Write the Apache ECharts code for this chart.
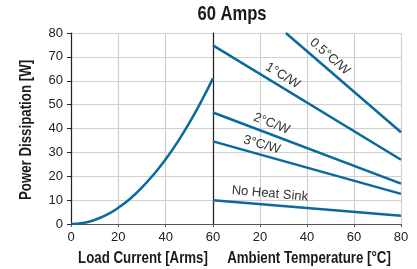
<!DOCTYPE html>
<html>
<head>
<meta charset="utf-8">
<script src="https://cdn.jsdelivr.net/npm/echarts@6/dist/echarts.min.js"></script>
<style>
  html, body { margin: 0; padding: 0; background: #fff; }
  #chart { width: 417px; height: 269px; }
</style>
</head>
<body>
<div id="chart"></div>
<script>
// left panel: dissipation vs load current
var loadCurrent = [0, 5, 10, 15, 20, 25, 30, 35, 40, 45, 50, 55, 60];
var dissipation = [0, 0.4, 1.7, 3.8, 6.8, 10.6, 15.3, 20.8, 27.1, 34.3, 42.4, 51.3, 61];

// right panel: derating lines vs ambient temperature
var ambientTemp = [0, 80];
var halfCW = [[31, 80], [80, 38.4]];
var oneCW = [74.8, 26.9];
var twoCW = [46.7, 16.9];
var threeCW = [34.6, 12.6];
var noSink = [9.9, 3.5];

var lineLabels = ['0.5°C/W', '1°C/W', '2°C/W', '3°C/W', 'No Heat Sink'];
var labelAnchors = [[49.7, 70.1], [29.7, 62.1], [25.0, 42.0], [20.8, 33.2], [24.2, 12.7]];
var labelAngles = [41, 31, 21, 16, 5];

var BLUE = '#0b6a9b';
var GRID = '#d0d0d0';
var REG = "'Liberation Sans', Arial, sans-serif";

function pairs(xs, ys) {
  return xs.map(function (x, i) { return [x, ys[i]]; });
}

var chart = echarts.init(document.getElementById('chart'));

var baseY = {
  type: 'value', min: 0, max: 80, interval: 10,
  splitLine: { show: true, lineStyle: { color: GRID, width: 1.2 } },
  axisLine: { show: true, lineStyle: { color: '#222', width: 1.2 } }
};

var baseX = {
  type: 'value', interval: 20,
  axisLine: { lineStyle: { color: '#555', width: 1.2 } },
  axisTick: { show: true, length: 3, lineStyle: { color: '#555' } },
  splitLine: { show: true, lineStyle: { color: GRID, width: 1.2 } }
};

var option = {
  animation: false,
  grid: [
    { left: 71, top: 33, width: 142, height: 191 },
    { left: 213, top: 33, width: 188, height: 191 }
  ],
  xAxis: [
    Object.assign({}, baseX, {
      gridIndex: 0, min: 0, max: 60,
      axisLabel: { fontFamily: REG, fontSize: 13, color: '#222', margin: 7 }
    }),
    Object.assign({}, baseX, {
      gridIndex: 1, min: 0, max: 80,
      axisLabel: { fontFamily: REG, fontSize: 13, color: '#222', margin: 7, showMinLabel: false }
    })
  ],
  yAxis: [
    Object.assign({}, baseY, {
      gridIndex: 0,
      axisTick: { show: true, inside: false, length: 4, lineStyle: { color: '#222' } },
      axisLabel: { fontFamily: REG, fontSize: 13, color: '#222', margin: 8 }
    }),
    Object.assign({}, baseY, {
      gridIndex: 1,
      axisTick: { show: false },
      axisLabel: { show: false }
    })
  ],
  series: [
    { type: 'line', xAxisIndex: 0, yAxisIndex: 0, data: pairs(loadCurrent, dissipation),
      smooth: true, showSymbol: false, lineStyle: { color: BLUE, width: 2.5 } },
    { type: 'line', xAxisIndex: 1, yAxisIndex: 1, data: halfCW,
      showSymbol: false, lineStyle: { color: BLUE, width: 2.5 } },
    { type: 'line', xAxisIndex: 1, yAxisIndex: 1, data: pairs(ambientTemp, oneCW),
      showSymbol: false, lineStyle: { color: BLUE, width: 2.5 } },
    { type: 'line', xAxisIndex: 1, yAxisIndex: 1, data: pairs(ambientTemp, twoCW),
      showSymbol: false, lineStyle: { color: BLUE, width: 2.5 } },
    { type: 'line', xAxisIndex: 1, yAxisIndex: 1, data: pairs(ambientTemp, threeCW),
      showSymbol: false, lineStyle: { color: BLUE, width: 2.5 } },
    { type: 'line', xAxisIndex: 1, yAxisIndex: 1, data: pairs(ambientTemp, noSink),
      showSymbol: false, lineStyle: { color: BLUE, width: 2.5 } }
  ]
};

chart.setOption(option);

// condensed bold headings (no narrow font installed, so squeeze horizontally)
function heading(t, x, y, size, rot) {
  return {
    type: 'text', x: x, y: y, scaleX: 0.83, rotation: rot || 0,
    style: {
      text: t, fontFamily: REG, fontWeight: 'bold', fontSize: size, fill: '#1a1a1a',
      align: 'center', verticalAlign: 'middle'
    }
  };
}

var graphics = [
  heading('60 Amps', 232, 14, 20),
  heading('Load Current [Arms]', 143, 259, 16),
  heading('Ambient Temperature [°C]', 309, 259, 16),
  heading('Power Dissipation [W]', 27, 130, 16, Math.PI / 2)
];

// rotated line labels placed through the right panel's scales
lineLabels.forEach(function (t, i) {
  var p = chart.convertToPixel({ gridIndex: 1 }, labelAnchors[i]);
  graphics.push({
    type: 'text', x: p[0], y: p[1],
    rotation: -labelAngles[i] * Math.PI / 180,
    style: {
      text: t, fontFamily: REG, fontSize: 13, fill: '#333',
      align: 'center', verticalAlign: 'middle'
    }
  });
});
chart.setOption({ graphic: graphics });
</script>
</body>
</html>
